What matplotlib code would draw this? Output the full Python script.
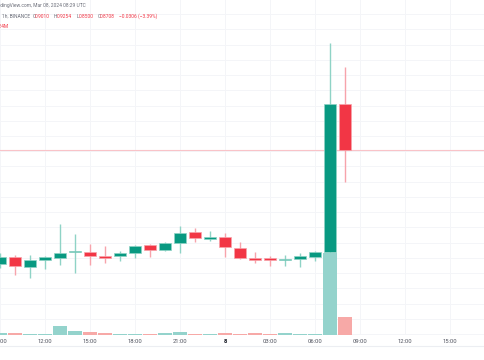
import matplotlib
matplotlib.use("Agg")
import matplotlib.pyplot as plt

# hourly candles, Mar 07 09:00 -> Mar 08 08:00 (UTC)
hours = ["09:00", "10:00", "11:00", "12:00", "13:00", "14:00", "15:00", "16:00",
         "17:00", "18:00", "19:00", "20:00", "21:00", "22:00", "23:00", "00:00",
         "01:00", "02:00", "03:00", "04:00", "05:00", "06:00", "07:00", "08:00"]
opens = [0.7960, 0.8008, 0.7942, 0.7986, 0.8001, 0.8040, 0.8038, 0.8012,
         0.8014, 0.8034, 0.8082, 0.8052, 0.8096, 0.8168, 0.8126, 0.8135,
         0.8066, 0.8001, 0.7992, 0.7984, 0.7995, 0.8008, 0.8040, 0.9010]
highs = [0.8034, 0.8019, 0.8019, 0.8012, 0.8222, 0.8157, 0.8091, 0.8078,
         0.8045, 0.8084, 0.8089, 0.8102, 0.8209, 0.8195, 0.8178, 0.8161,
         0.8102, 0.8040, 0.8012, 0.8019, 0.8030, 0.8045, 0.9409, 0.9254]
lows = [0.7931, 0.7887, 0.7866, 0.7925, 0.7953, 0.7902, 0.7953, 0.7964,
        0.7981, 0.7997, 0.8004, 0.8047, 0.8034, 0.8104, 0.8113, 0.8008,
        0.7995, 0.7964, 0.7948, 0.7948, 0.7942, 0.7981, 0.8030, 0.8500]
closes = [0.8008, 0.7946, 0.7986, 0.8004, 0.8032, 0.8047, 0.8014, 0.8001,
          0.8034, 0.8078, 0.8052, 0.8096, 0.8161, 0.8128, 0.8132, 0.8069,
          0.7997, 0.7986, 0.7988, 0.7995, 0.8012, 0.8040, 0.9010, 0.8708]
volumes = [1.01, 1.16, 0.66, 0.66, 4.70, 1.87, 1.36, 0.86,
           0.35, 0.35, 0.51, 0.86, 1.36, 0.66, 0.35, 0.86,
           0.51, 0.86, 0.51, 1.16, 0.66, 0.66, 41.4, 9.24]

tick_labels = ["09:00", "12:00", "15:00", "18:00", "21:00", "8",
               "03:00", "06:00", "09:00", "12:00", "15:00"]
price_grid = [0.75, 0.76, 0.77, 0.78, 0.79, 0.80, 0.81, 0.82, 0.83, 0.84,
              0.85, 0.86, 0.87, 0.88, 0.89, 0.90, 0.91, 0.92, 0.93, 0.94,
              0.95, 0.96]
last_price = 0.8708

UP = "#089981"
DOWN = "#f23645"
UP_WICK = "#8fd3c6"
DOWN_WICK = "#f7a3ab"
UP_VOL = "#94d3cc"
DOWN_VOL = "#f7a9a7"
GRID = "#f4f5f8"
TXT = "#6a6d78"

fig = plt.figure(figsize=(4.85, 3.6), dpi=100)
fig.patch.set_facecolor("white")

# price pane (bottom layer, carries the grid)
axp = fig.add_axes([0, 25 / 360, 1, 335 / 360])
# volume overlay on top
axv = axp.twinx()

x = list(range(len(hours)))
up = [c >= o for o, c in zip(opens, closes)]

tick_pos = list(range(0, 33, 3))
for t in tick_pos:
    axp.axvline(t, color=GRID, lw=0.7, zorder=0)
for p in price_grid:
    axp.axhline(p, color=GRID, lw=0.7, zorder=0)
axp.axhline(last_price, color="#f9c3c8", lw=0.8, zorder=1)

# candles
for i in x:
    o, h, l, c = opens[i], highs[i], lows[i], closes[i]
    col = UP if up[i] else DOWN
    wcol = UP_WICK if up[i] else DOWN_WICK
    axp.vlines(i, l, h, color=wcol, lw=1.0, zorder=3)
    lo = min(o, c)
    hgt = max(abs(c - o), 0.0008)
    axp.bar(i, hgt, bottom=lo, width=0.78, color=col,
            edgecolor=wcol, linewidth=0.5, zorder=4)

axp.set_ylim(0.74935, 0.969276)
axp.set_xlim(-0.02, 32.31)
axp.set_yticks([])
axp.set_xticks(tick_pos)
axp.set_xticklabels(tick_labels)

# volume bars
axv.bar(x, volumes, width=0.93,
        color=[UP_VOL if u else DOWN_VOL for u in up],
        edgecolor="none", zorder=2)
axv.set_ylim(0, 169.2)
axv.set_xlim(-0.02, 32.31)
axv.set_yticks([])

for a in (axp, axv):
    for s in a.spines.values():
        s.set_visible(False)
axv.patch.set_visible(False)

axp.tick_params(axis="x", length=0, pad=3.2, labelsize=4.2, labelcolor="#50535e")
for lab in axp.get_xticklabels():
    lab.set_fontfamily("Roboto")
    if lab.get_text() == "8":
        lab.set_fontweight("bold")
        lab.set_color("#131722")

# bottom border of the time scale
fig.add_artist(plt.Line2D([0, 1], [14.5 / 360, 14.5 / 360],
                          color="#eceef2", lw=0.8))


# header texts, positions in pixels from top-left
def header(px, py, s, color, ha="left"):
    fig.text(px / 485, 1 - py / 360, s, color=color, fontsize=3.5,
             family="Roboto", ha=ha, va="center")


header(86, 5.5, "TradingView.com, Mar 08, 2024 08:29 UTC", TXT, ha="right")
header(1.7, 16.5, "1h, BINANCE", TXT)
header(32.3, 16.5, "O", TXT)
header(34.6, 16.5, "0.9010", DOWN)
header(54, 16.5, "H", TXT)
header(56.7, 16.5, "0.9254", DOWN)
header(76.7, 16.5, "L", TXT)
header(78.9, 16.5, "0.8500", DOWN)
header(97.7, 16.5, "C", TXT)
header(100.2, 16.5, "0.8708", DOWN)
header(119.3, 16.5, "\u22120.0306 (\u22123.39%)", DOWN)
header(8.5, 26.5, "Vol 9.24M", DOWN, ha="right")

fig.savefig("out.png", dpi=100, facecolor="white")
